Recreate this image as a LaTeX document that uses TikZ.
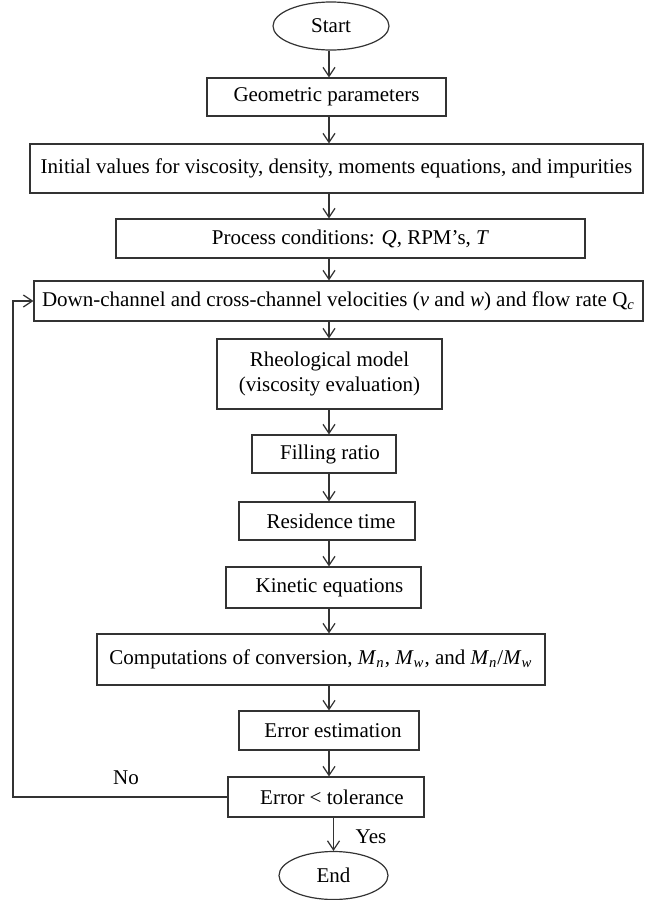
\documentclass[tikz,border=0pt]{standalone}
\usepackage{fontspec}
\setmainfont{Liberation Serif}
\usetikzlibrary{arrows.meta,shapes.geometric}

\tikzset{
	box/.style={draw=black!80, line width=0.6pt, rectangle, inner sep=0pt, align=center, font=\fontsize{10.5}{12.8}\selectfont},
	term/.style={draw=black!80, line width=0.6pt, ellipse, inner sep=0pt, font=\fontsize{10.5}{12.8}\selectfont},
	link/.style={draw=black!80, line width=0.6pt, -{Straight Barb[length=4.5pt,width=6pt]}},
	tag/.style={font=\fontsize{10.5}{12.8}\selectfont}
}

\begin{document}
\begin{tikzpicture}[x=0.5pt, y=-0.5pt]
			\useasboundingbox (0,0) rectangle (654,900);
			\coordinate (axis) at (329,0);

			% terminals and steps
			\node[term, minimum width=58pt, minimum height=24pt] (start) at (331,26) {Start};
			\node[box, minimum width=119.5pt, minimum height=19pt] (geo) at (326.5,97) {Geometric parameters};
			\node[box, minimum width=306.5pt, minimum height=24.5pt] (init) at (336.5,168.5) {Initial values for viscosity, density, moments equations, and impurities};
			\node[box, minimum width=234.5pt, minimum height=19.5pt] (proc) at (350.5,238.5) {Process conditions: \textit{Q}, RPM's, \textit{T}};
			\node[box, minimum width=304.5pt, minimum height=20pt] (vel) at (338.5,301) {Down-channel and cross-channel velocities (\textit{v} and \textit{w}) and flow rate Q\textsubscript{\textit{c}}};
			\node[box, minimum width=112.5pt, minimum height=35pt] (rheo) at (329.5,374) {Rheological model\\(viscosity evaluation)};
			\node[box, minimum width=72pt, minimum height=19pt] (fill) at (324,454) {\hspace{6pt}Filling ratio};
			\node[box, minimum width=88pt, minimum height=19pt] (res) at (327,521) {\hspace{4pt}Residence time};
			\node[box, minimum width=97.5pt, minimum height=20.5pt] (kin) at (323.5,587.5) {\hspace{6pt}Kinetic equations};
			\node[box, minimum width=224pt, minimum height=25.5pt] (comp) at (321,659.5) {Computations of conversion, \textit{M}\textsubscript{\textit{n}}, \textit{M}\textsubscript{\textit{w}}, and \textit{M}\textsubscript{\textit{n}}/\textit{M}\textsubscript{\textit{w}}};
			\node[box, minimum width=90pt, minimum height=19.5pt] (est) at (329,730.5) {\hspace{4pt}Error estimation};
			\node[box, minimum width=98pt, minimum height=20pt] (tol) at (326,797) {\hspace{6pt}Error < tolerance};
			\node[term, minimum width=54.5pt, minimum height=24pt] (end) at (333.5,875.5) {End};

			% main flow
			\foreach \a/\b in {start/geo, geo/init, init/proc, proc/vel, vel/rheo, rheo/fill, fill/res, res/kin, kin/comp, comp/est, est/tol}
			{
				\draw[link] (\a.south -| axis) -- (\b.north -| axis);
			}
			\draw[link] (tol.south -| end.north) -- (end.north);

			% loop back
			\coordinate (back) at (13,0);
			\draw[link] (tol.west) -- (tol.west -| back) -- (vel.west -| back) -- (vel.west);
			\node[tag] (no) at (126,778) {No};
			\node[tag] (yes) at (371,837) {Yes};
		\end{tikzpicture}
\end{document}
